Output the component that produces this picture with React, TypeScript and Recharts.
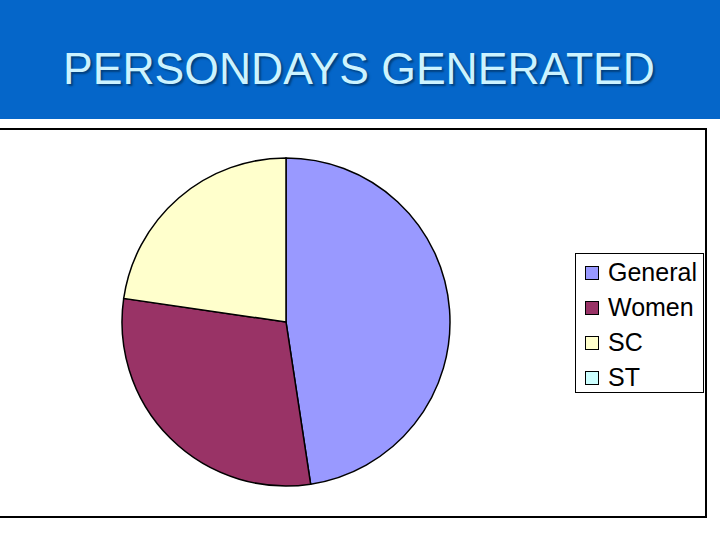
import { PieChart, Pie, Cell, Legend } from 'recharts'

const categories = ['General', 'Women', 'SC', 'ST']
const shares = [47.6, 29.7, 22.7, 0]
const colors = ['#9999FF', '#993366', '#FFFFCC', '#CCFFFF']

const data = categories.map((name, i) => ({ name, value: shares[i] }))

function LegendBox() {
  return (
    <div
      style={{
        width: 129,
        height: 140,
        border: '1px solid #000',
        boxSizing: 'border-box',
        background: '#fff',
        paddingTop: 1,
        fontFamily: '"Liberation Sans", Arial, sans-serif',
      }}
    >
      {categories.map((name, i) => (
        <div key={name} style={{ display: 'flex', alignItems: 'center', height: 35 }}>
          <span
            style={{
              display: 'inline-block',
              width: 12,
              height: 12,
              marginLeft: 9,
              marginRight: 9,
              background: colors[i],
              border: '1px solid #000',
            }}
          />
          <span style={{ fontSize: 25, color: '#000' }}>{name}</span>
        </div>
      ))}
    </div>
  )
}

export default function App() {
  return (
    <div
      style={{
        position: 'absolute',
        left: 0,
        top: 0,
        width: 720,
        height: 540,
        background: '#fff',
        overflow: 'hidden',
        fontFamily: '"Liberation Sans", Arial, sans-serif',
      }}
    >
      <div style={{ position: 'absolute', left: 0, top: 0, width: 720, height: 119, background: '#0566C9' }} />
      <div
        style={{
          position: 'absolute',
          left: 0,
          top: 47,
          width: 718,
          textAlign: 'center',
          fontSize: 44.5,
          lineHeight: '43px',
          color: '#CCF3FF',
          textShadow: '2px 2px 2px #02407e',
        }}
      >
        PERSONDAYS GENERATED
      </div>
      <div
        style={{
          position: 'absolute',
          left: -2,
          top: 128,
          width: 709,
          height: 390,
          border: '2px solid #000',
          boxSizing: 'border-box',
        }}
      />
      <div style={{ position: 'absolute', left: 0, top: 0 }}>
        <PieChart width={720} height={540} margin={{ top: 0, right: 0, bottom: 0, left: 0 }}>
          <Pie
            data={data}
            dataKey="value"
            nameKey="name"
            cx={286}
            cy={322}
            outerRadius={164}
            startAngle={90}
            endAngle={-270}
            stroke="#000"
            strokeWidth={1.5}
            isAnimationActive={false}
          >
            {data.map((d, i) => (
              <Cell key={d.name} fill={colors[i]} />
            ))}
          </Pie>
          <Legend
            content={() => <LegendBox />}
            wrapperStyle={{ left: 575, top: 253, width: 129, height: 140 }}
          />
        </PieChart>
      </div>
    </div>
  )
}
